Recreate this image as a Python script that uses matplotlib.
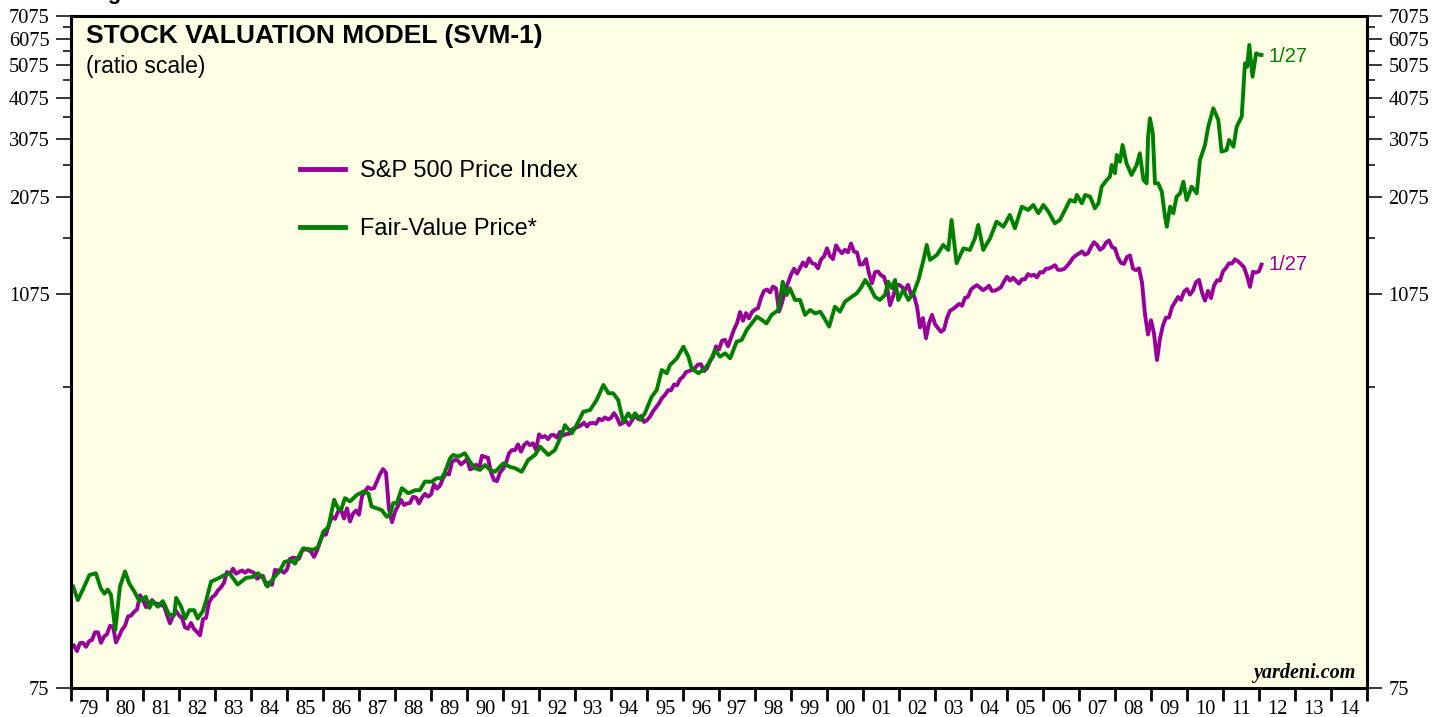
import numpy as np
import matplotlib.pyplot as plt
from matplotlib.ticker import FixedLocator, FixedFormatter, NullFormatter

# S&P 500 month-end closes, Jan 1979 .. Dec 2011 (a few months nudged to weekly extremes)
spx_start_year = 1979
spx = [
    99.9, 96.3, 101.6, 101.8, 99.1, 102.9, 103.8, 109.3, 109.3, 101.8, 106.2, 107.9,      # 1979
    114.2, 113.7, 102.1, 106.3, 111.2, 114.2, 121.7, 122.4, 125.5, 127.5, 140.5, 135.8,   # 1980
    129.6, 131.3, 136.0, 132.8, 132.6, 131.2, 130.9, 122.8, 116.2, 121.9, 126.4, 122.6,   # 1981
    120.4, 113.1, 112.0, 116.4, 111.9, 109.6, 107.1, 119.5, 120.4, 133.7, 138.5, 140.6,   # 1982
    145.3, 148.1, 153.0, 164.4, 162.4, 168.1, 162.6, 164.4, 166.1, 163.6, 166.4, 164.9,   # 1983
    163.4, 157.1, 159.2, 160.1, 150.6, 153.2, 150.7, 166.7, 166.1, 166.1, 163.6, 167.2,   # 1984
    179.6, 181.2, 180.7, 179.8, 189.6, 191.9, 190.9, 188.6, 182.1, 189.8, 202.2, 211.3,   # 1985
    211.8, 226.9, 238.9, 235.5, 247.4, 250.8, 236.1, 252.9, 231.3, 244.0, 249.2, 242.2,   # 1986
    274.1, 284.2, 291.7, 288.4, 290.1, 304.0, 318.7, 329.8, 321.8, 251.8, 230.3, 247.1,   # 1987
    257.1, 267.8, 258.9, 261.3, 262.2, 273.5, 272.0, 261.5, 271.9, 279.0, 273.7, 277.7,   # 1988
    297.5, 288.9, 294.9, 309.6, 320.5, 318.0, 346.1, 351.5, 349.2, 340.4, 346.0, 353.4,   # 1989
    329.1, 331.9, 339.9, 330.8, 361.2, 358.0, 356.2, 322.6, 306.1, 304.0, 322.2, 330.2,   # 1990
    343.9, 367.1, 375.2, 375.3, 389.8, 371.2, 387.8, 395.4, 387.9, 392.5, 375.2, 417.1,   # 1991
    408.8, 412.7, 403.7, 415.0, 415.4, 408.1, 424.2, 414.0, 417.8, 418.7, 431.4, 435.7,   # 1992
    438.8, 443.4, 451.7, 440.2, 450.2, 450.5, 448.1, 463.6, 458.9, 467.8, 461.8, 466.5,   # 1993
    481.6, 467.1, 445.8, 450.9, 456.5, 444.3, 458.3, 475.5, 462.7, 472.4, 453.7, 459.3,   # 1994
    470.4, 487.4, 500.7, 514.7, 533.4, 544.8, 562.1, 561.9, 584.4, 581.5, 605.4, 615.9,   # 1995
    636.0, 640.4, 645.5, 654.2, 669.1, 670.6, 640.0, 652.0, 687.3, 705.3, 757.0, 740.7,   # 1996
    786.2, 790.8, 757.1, 801.3, 848.3, 885.1, 954.3, 899.5, 947.3, 914.6, 955.4, 970.4,   # 1997
    980.3, 1049.3, 1101.8, 1111.8, 1090.8, 1133.8, 1120.7, 957.3, 1017.0, 1098.7, 1163.6, 1229.2,  # 1998
    1279.6, 1238.3, 1286.4, 1335.2, 1301.8, 1372.7, 1328.7, 1320.4, 1282.7, 1362.9, 1388.9, 1469.3,  # 1999
    1394.5, 1366.4, 1498.6, 1452.4, 1420.6, 1454.6, 1430.8, 1517.7, 1436.5, 1429.4, 1315.0, 1320.3,  # 2000
    1366.0, 1239.9, 1160.3, 1249.5, 1255.8, 1224.4, 1211.2, 1133.6, 1000.0, 1059.8, 1139.5, 1148.1,  # 2001
    1130.2, 1106.7, 1147.4, 1076.9, 1067.1, 989.8, 860.0, 916.1, 800.0, 885.8, 936.3, 879.8,        # 2002
    855.7, 835.0, 848.2, 916.9, 963.6, 974.5, 990.3, 1008.0, 996.0, 1050.7, 1058.2, 1111.9,         # 2003
    1131.1, 1144.9, 1126.2, 1107.3, 1120.7, 1140.8, 1101.7, 1104.2, 1114.6, 1130.2, 1173.8, 1211.9,  # 2004
    1181.3, 1203.6, 1180.6, 1156.9, 1191.5, 1191.3, 1234.2, 1220.3, 1228.8, 1207.0, 1249.5, 1248.3,  # 2005
    1280.1, 1280.7, 1294.9, 1310.6, 1270.1, 1270.2, 1276.7, 1303.8, 1335.9, 1377.9, 1400.6, 1418.3,  # 2006
    1438.2, 1406.8, 1420.9, 1482.4, 1530.6, 1503.4, 1455.3, 1474.0, 1526.8, 1549.4, 1481.1, 1468.4,  # 2007
    1378.6, 1330.6, 1322.7, 1385.6, 1400.4, 1280.0, 1267.4, 1282.8, 1166.4, 940.0, 820.0, 903.3,     # 2008
    825.9, 690.0, 797.9, 872.8, 919.1, 919.3, 987.5, 1020.6, 1057.1, 1036.2, 1095.6, 1115.1,         # 2009
    1073.9, 1104.5, 1169.4, 1186.7, 1089.4, 1030.7, 1101.6, 1049.3, 1141.2, 1183.3, 1180.6, 1257.6,  # 2010
    1286.1, 1327.2, 1325.8, 1363.6, 1345.2, 1320.6, 1292.3, 1218.9, 1131.4, 1253.3, 1247.0, 1257.6,  # 2011
]
spx_last_date = 2012.07   # 1/27/2012
spx_last = 1316.3

# Fair-value price (decimal year, value)
fv_dates = [
    1979.06, 1979.19, 1979.33, 1979.51, 1979.69, 1979.83, 1979.93, 1980.02, 1980.11, 1980.23,
    1980.36, 1980.50, 1980.62, 1980.76, 1980.90, 1981.08, 1981.18, 1981.27, 1981.41, 1981.55,
    1981.73, 1981.87, 1981.92, 1982.06, 1982.17, 1982.29, 1982.42, 1982.52, 1982.66, 1982.75,
    1982.89, 1983.12, 1983.26, 1983.40, 1983.63, 1983.86, 1984.05, 1984.19, 1984.33, 1984.46,
    1984.65, 1984.79, 1984.93, 1985.11, 1985.22, 1985.45, 1985.73, 1985.87, 1986.01, 1986.15,
    1986.31, 1986.42, 1986.50, 1986.61, 1986.75, 1986.94, 1987.12, 1987.26, 1987.35, 1987.49,
    1987.63, 1987.77, 1987.86, 1987.95, 1988.05, 1988.19, 1988.37, 1988.56, 1988.69, 1988.83,
    1989.02, 1989.16, 1989.30, 1989.39, 1989.53, 1989.62, 1989.76, 1989.94, 1990.08, 1990.22,
    1990.36, 1990.50, 1990.64, 1990.78, 1991.01, 1991.19, 1991.33, 1991.52, 1991.70, 1991.89,
    1992.03, 1992.26, 1992.44, 1992.63, 1992.72, 1992.91, 1993.00, 1993.23, 1993.42, 1993.60,
    1993.79, 1993.93, 1994.06, 1994.20, 1994.34, 1994.48, 1994.57, 1994.67, 1994.81, 1994.94,
    1995.13, 1995.27, 1995.41, 1995.55, 1995.64, 1995.83, 1996.01, 1996.15, 1996.24, 1996.43,
    1996.61, 1996.75, 1996.89, 1997.03, 1997.17, 1997.31, 1997.49, 1997.63, 1997.77, 1997.91,
    1998.05, 1998.19, 1998.32, 1998.46, 1998.65, 1998.77, 1998.88, 1998.97, 1999.11, 1999.25,
    1999.39, 1999.53, 1999.67, 1999.81, 1999.90, 2000.06, 2000.22, 2000.36, 2000.50, 2000.69,
    2000.83, 2000.96, 2001.06, 2001.19, 2001.33, 2001.47, 2001.61, 2001.70, 2001.80, 2001.89,
    2001.98, 2002.12, 2002.26, 2002.40, 2002.54, 2002.68, 2002.77, 2002.86, 2003.05, 2003.23,
    2003.37, 2003.46, 2003.60, 2003.79, 2003.97, 2004.11, 2004.20, 2004.34, 2004.53, 2004.71,
    2004.90, 2005.08, 2005.22, 2005.41, 2005.59, 2005.73, 2005.87, 2006.01, 2006.15, 2006.33,
    2006.47, 2006.61, 2006.75, 2006.89, 2006.94, 2007.08, 2007.17, 2007.31, 2007.44, 2007.54,
    2007.63, 2007.77, 2007.86, 2007.91, 2008.00, 2008.05, 2008.14, 2008.21, 2008.32, 2008.46,
    2008.60, 2008.69, 2008.79, 2008.88, 2008.92, 2008.97, 2009.05, 2009.11, 2009.20, 2009.30,
    2009.39, 2009.44, 2009.53, 2009.62, 2009.71, 2009.81, 2009.90, 2009.99, 2010.13, 2010.27,
    2010.36, 2010.50, 2010.59, 2010.73, 2010.87, 2010.96, 2011.10, 2011.17, 2011.29, 2011.38,
    2011.52, 2011.61, 2011.67, 2011.73, 2011.82, 2011.92, 2012.03, 2012.07,
]
fv_values = [
    149, 136, 146, 161, 163, 147, 142, 146, 141, 111,
    149, 165, 152, 144, 135, 139, 129, 135, 130, 135,
    123, 123, 138, 130, 120, 127, 127, 120, 126, 135,
    154, 158, 161, 163, 151, 158, 159, 163, 158, 149,
    159, 165, 176, 178, 174, 193, 191, 195, 216, 223,
    268, 253, 250, 271, 265, 277, 283, 280, 256, 253,
    250, 239, 242, 262, 262, 290, 280, 286, 286, 303,
    303, 310, 310, 324, 355, 363, 359, 367, 347, 332,
    328, 339, 328, 324, 343, 335, 332, 324, 351, 363,
    384, 363, 375, 416, 444, 420, 435, 486, 492, 526,
    583, 551, 551, 526, 455, 481, 465, 481, 460, 481,
    538, 563, 645, 631, 667, 698, 755, 706, 652, 631,
    652, 682, 738, 706, 722, 698, 781, 790, 845, 884,
    925, 905, 884, 936, 968, 1172, 1071, 1121, 1036, 1036,
    936, 968, 946, 957, 925, 865, 990, 957, 1024, 1059,
    1084, 1133, 1186, 1133, 1059, 1036, 1071, 1172, 1121, 1186,
    1036, 1108, 1036, 1084, 1186, 1358, 1503, 1358, 1404, 1503,
    1453, 1780, 1328, 1469, 1453, 1572, 1721, 1453, 1572, 1759,
    1701, 1841, 1682, 1947, 1904, 1970, 1862, 1970, 1883, 1740,
    1780, 1904, 2037, 2014, 2107, 1993, 2107, 2083, 1926, 1993,
    2229, 2333, 2385, 2581, 2441, 2762, 2640, 2956, 2611, 2413,
    2581, 2794, 2333, 2281, 3126, 3542, 3199, 2281, 2281, 2155,
    1819, 1701, 1947, 1862, 2083, 2132, 2306, 2037, 2229, 2132,
    2670, 2956, 3345, 3790, 3502, 2825, 2858, 3058, 2922, 3345,
    3581, 5138, 5020, 5815, 4692, 5498, 5435, 5435,
]

y_major = [75, 1075, 2075, 3075, 4075, 5075, 6075, 7075]
y_minor = [575, 1575, 2575, 3575, 4575, 5575, 6575]
years = list(range(1979, 2016))
year_labels = ['%02d' % (y % 100) for y in range(1979, 2015)]

PURPLE = '#990099'
GREEN = '#008000'
BG = '#FFFFE6'

spx_dates = spx_start_year + np.arange(1, len(spx) + 1) / 12.0
spx_dates = np.append(spx_dates, spx_last_date)
spx_vals = np.append(spx, spx_last)

fig = plt.figure(figsize=(14.48, 7.17), dpi=100)
ax = fig.add_axes([71 / 1448, 29 / 717, 1296 / 1448, 672 / 717])
ax.set_facecolor(BG)

ax.plot(spx_dates, spx_vals, color=PURPLE, lw=2.8, label='S&P 500 Price Index', solid_joinstyle='round')
ax.plot(fv_dates, fv_values, color=GREEN, lw=2.8, label='Fair-Value Price*', solid_joinstyle='round')

ax.set_yscale('log')
ax.set_ylim(75, 7075)
ax.set_xlim(1979, 2015)

# y axis: labelled ticks every 1000 starting at 75, short ticks in between
ax.yaxis.set_major_locator(FixedLocator(y_major))
ax.yaxis.set_major_formatter(FixedFormatter([str(v) for v in y_major]))
ax.yaxis.set_minor_locator(FixedLocator(y_minor))
ax.yaxis.set_minor_formatter(NullFormatter())
ax.tick_params(axis='y', which='major', length=11, width=1.1, direction='out',
               left=True, right=True, labelleft=True, labelright=True, pad=4.5)
ax.tick_params(axis='y', which='minor', length=5.5, width=1.1, direction='out',
               left=True, right=True)

# x axis: ticks at year boundaries, labels centred in each year
ax.xaxis.set_major_locator(FixedLocator(years))
ax.xaxis.set_major_formatter(NullFormatter())
ax.xaxis.set_minor_locator(FixedLocator([y + 0.5 for y in years[:-1]]))
ax.xaxis.set_minor_formatter(FixedFormatter(year_labels))
ax.tick_params(axis='x', which='major', length=9.5, width=2, direction='out')
ax.tick_params(axis='x', which='minor', length=0, pad=9)

for lab in ax.get_yticklabels() + ax.get_xticklabels(minor=True):
    lab.set_fontfamily('Liberation Serif')
    lab.set_fontsize(14.7)

for sp in ax.spines.values():
    sp.set_linewidth(2.2)
    sp.set_color('black')

ax.text(0.0116, 0.988, 'STOCK VALUATION MODEL (SVM-1)', transform=ax.transAxes,
        fontfamily='Liberation Sans', fontweight='bold', fontsize=19, va='top', ha='left')
ax.text(0.0116, 0.942, '(ratio scale)', transform=ax.transAxes,
        fontfamily='Liberation Sans', fontsize=16.5, va='top', ha='left')
ax.text(0.9907, 0.015, 'yardeni.com', transform=ax.transAxes,
        fontfamily='Liberation Serif', fontweight='bold', fontstyle='italic',
        fontsize=14.5, va='baseline', ha='right')

leg = ax.legend(loc='upper left', bbox_to_anchor=(0.1767, 0.785), frameon=False,
                prop={'family': 'Liberation Sans', 'size': 17}, handlelength=1.9,
                handletextpad=0.64, labelspacing=1.52, borderpad=0, borderaxespad=0)
for h in leg.get_lines():
    h.set_linewidth(3.5)

# end-point labels
ax.annotate('1/27', (fv_dates[-1], fv_values[-1]), xytext=(5, -1), textcoords='offset points',
            color=GREEN, fontsize=14.5, fontfamily='Liberation Sans', va='center')
ax.annotate('1/27', (spx_dates[-1], spx_vals[-1]), xytext=(5, 0), textcoords='offset points',
            color=PURPLE, fontsize=14.5, fontfamily='Liberation Sans', va='center')

fig.text(88 / 1448, 1.0015, 'Figure 1.', fontfamily='Liberation Sans', fontweight='bold',
         fontsize=16, va='baseline', ha='left')

fig.savefig('out.png', dpi=100, facecolor='white')
